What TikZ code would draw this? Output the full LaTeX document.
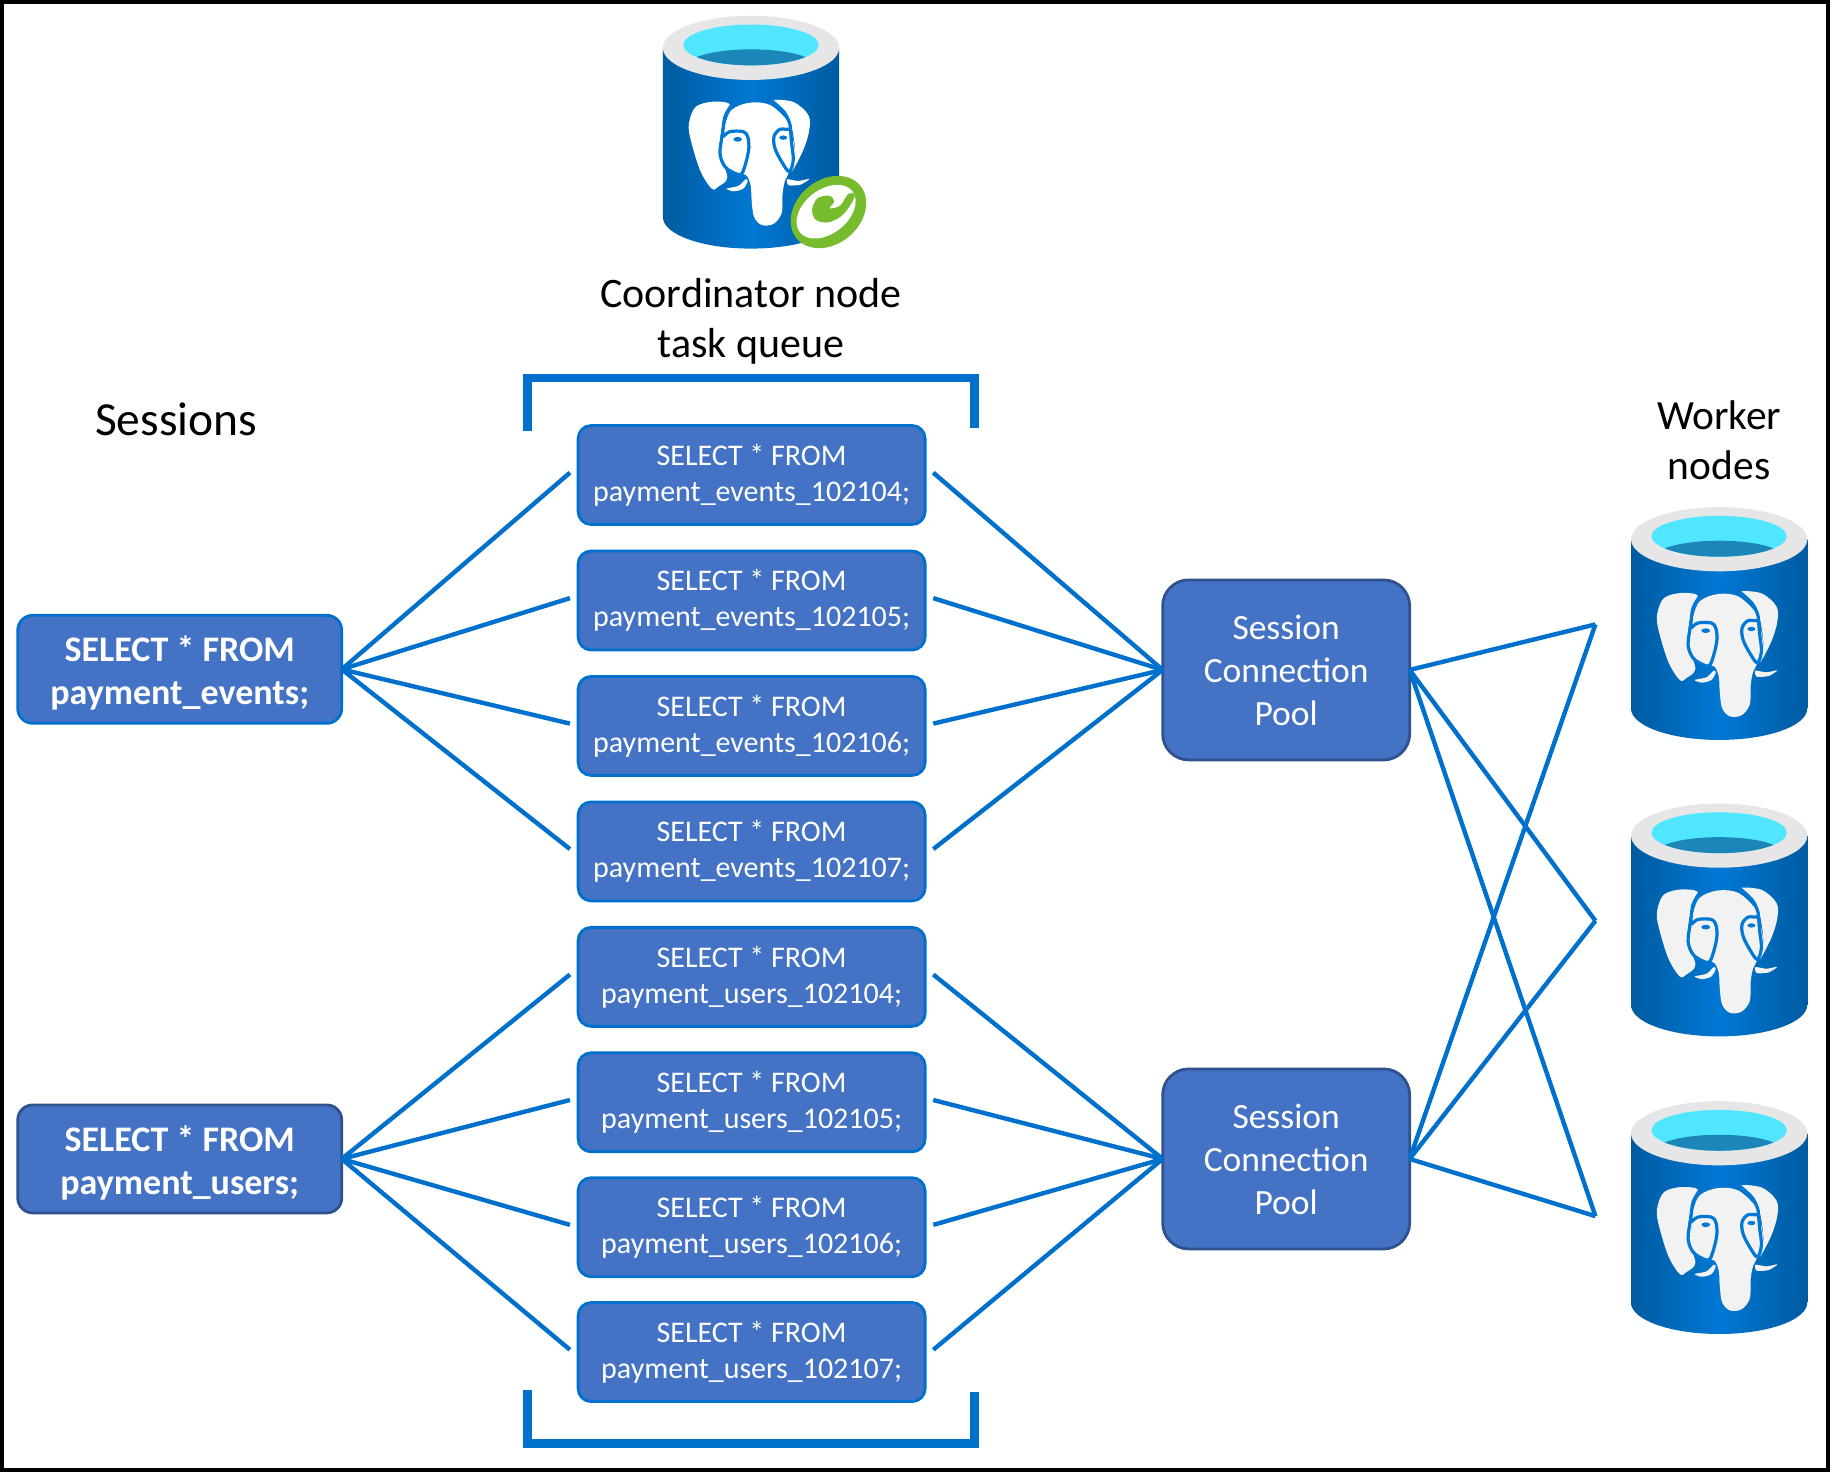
\documentclass[tikz,border=0pt]{standalone}
\usepackage{fontspec}
\setmainfont{Carlito}
\definecolor{boxfill}{HTML}{4472C4}
\definecolor{azure}{HTML}{0070CD}
\definecolor{darkedge}{HTML}{2F528F}
\definecolor{cylmid}{HTML}{0078D4}
\definecolor{cylside}{HTML}{005BA1}
\definecolor{rim}{HTML}{E6E6E6}
\definecolor{water}{HTML}{50E6FF}
\definecolor{deep}{HTML}{1D86B8}
\definecolor{badge}{HTML}{76BC2D}
\newcommand{\lowerline}{\rule{0pt}{33pt}}
\tikzset{
  anybox/.style={fill=boxfill,text=white,align=center,inner sep=0pt,outer sep=0pt,line width=2.8pt},
  querybox/.style={anybox,draw=azure,rounded corners=13pt,minimum width=347pt,minimum height=99pt,font=\fontsize{30}{36}\selectfont},
  sessionbox/.style={anybox,rounded corners=15pt,minimum width=324pt,minimum height=108pt,font=\fontsize{36}{43}\selectfont\bfseries},
  poolbox/.style={anybox,draw=darkedge,rounded corners=26pt,minimum width=247pt,minimum height=180pt,font=\fontsize{35.5}{43}\selectfont},
  caption/.style={align=center,text=black,inner sep=0pt,font=\fontsize{42}{50}\selectfont},
  link/.style={draw=azure,line width=4.4pt},
  bracket/.style={draw=azure,line width=8.5pt,miter limit=10}
}
\newcommand{\dbcyl}[4]{%
\begin{scope}[shift={(#1,#2)}]
  \shade[left color=cylside,right color=cylside,middle color=cylmid]
    (568,41) -- (568,186) .. controls (568,201) and (601.8,213) .. (643.5,213)
    .. controls (685.2,213) and (719,201) .. (719,186) -- (719,41) -- cycle;
  \fill[rim] (643.5,41) ellipse [x radius=75.5,y radius=27.5];
  \fill[water] (643.5,38.5) ellipse [x radius=58,y radius=17.5];
  \begin{scope}
    \clip (643.5,38.5) ellipse [x radius=58,y radius=17.5];
    \fill[deep] (643.5,55.7) ellipse [x radius=54,y radius=13.4];
  \end{scope}
  \begin{scope}[shift={(582.6,77.1)},x=.3333pt,y=-.3333pt]
    \fill[#3] plot[smooth cycle,tension=.55] coordinates {(152,46) (100,35) (48,50) (28,95) (30,140) (60,240) (95,296) (115,290) (142,262) (120,190) (126,110)};
    \fill[#3] plot[smooth cycle,tension=.55] coordinates {(275,32) (340,36) (385,75) (388,120) (370,180) (335,245) (346,190) (335,110) (315,70)};
    \fill[#3] plot[smooth cycle,tension=.55] coordinates {(132,115) (155,60) (210,38) (270,45) (320,90) (335,130) (345,195) (325,252) (315,272) (308,310) (305,370) (280,402) (245,405) (222,380) (215,330) (212,285) (198,255) (165,250) (135,230) (120,190) (128,140)};
    \fill[#3] plot[smooth cycle,tension=.5] coordinates {(140,296) (175,288) (197,268) (203,274) (190,296) (162,304)};
    \fill[#3] plot[smooth cycle,tension=.4] coordinates {(322,268) (355,273) (388,267) (362,284) (326,286)};
    \draw[cylmid,line width=3.2pt,line join=round]
      plot[smooth,tension=.55] coordinates {(155,45) (135,80) (128,130) (120,190) (135,230) (165,250) (185,252) (200,210) (207,170) (203,140) (190,125) (150,125) (130,140)};
    \draw[cylmid,line width=3.2pt,line join=round]
      plot[smooth,tension=.55] coordinates {(275,32) (315,70) (331,115) (300,118) (282,140) (285,175) (305,215) (328,245) (340,210) (335,160) (331,115)};
    \fill[cylmid] (173,148) ellipse [x radius=13,y radius=7];
    \fill[cylmid] (310,143) ellipse [x radius=12,y radius=6.5];
  \end{scope}
  #4
\end{scope}}
\begin{document}
\begin{tikzpicture}[x=1.1671pt,y=-1.1671pt]
\useasboundingbox (0,0) rectangle (1568,1261.25);
\draw[black,line width=4pt] (1.71,1.71) rectangle (1566.29,1259.54);

% cylinders
\dbcyl{0}{0}{white}{%
  \begin{scope}[shift={(668.4,141.4)},x=.3333pt,y=-.3333pt]
    \fill[badge,shift={(145,141)},rotate=40] (0,0) ellipse [x radius=124,y radius=96];
    \fill[white,shift={(138,140)},rotate=38] (0,0) ellipse [x radius=100,y radius=66];
    \fill[badge] plot[smooth cycle,tension=.55] coordinates {(96,135) (112,100) (148,92) (162,110) (148,130) (180,122) (205,86) (224,90) (212,118) (185,152) (145,172) (108,165)};
  \end{scope}}
\dbcyl{829.5}{421}{black!5}{}
\dbcyl{829.5}{675}{black!5}{}
\dbcyl{829.5}{930}{black!5}{}

% captions
\node[caption] (coord) at (643.5,275) {Coordinator node\\task queue};
\node[caption,font=\fontsize{47.5}{50}\selectfont] (sess) at (151,359.5) {Sessions};
\node[caption,font=\fontsize{41.5}{50}\selectfont] (work) at (1473,377) {Worker\\nodes};

% brackets
\draw[bracket] (452,369) -- (452,324) -- (835,324) -- (835,367);
\draw[bracket] (452,1191) -- (452,1237) -- (835,1237) -- (835,1193);

% boxes
\foreach \n/\y/\t in {1/407/events\_102104,2/514.5/events\_102105,3/622/events\_102106,4/729.5/events\_102107,5/837/users\_102104,6/944.5/users\_102105,7/1051.5/users\_102106,8/1158.5/users\_102107}{
  \node[querybox] (q\n) at (644,\y) {SELECT * FROM\\payment\_\t;};
  \coordinate (qin\n) at ([shift={(-7,-2)}]q\n.west);
  \coordinate (qout\n) at ([shift={(7,-2)}]q\n.east);
}
\node[sessionbox,draw=azure] (s1) at (154,573.5) {\lowerline SELECT * FROM\\payment\_events;};
\node[sessionbox,draw=darkedge] (s2) at (154,993) {\lowerline SELECT * FROM\\payment\_users;};
\node[poolbox] (p1) at (1102,574) {Session\\Connection\\Pool};
\node[poolbox] (p2) at (1102,993) {Session\\Connection\\Pool};

% free ends
\coordinate (w1) at (1367,535);
\coordinate (w2) at (1367,789);
\coordinate (w3) at (1367,1042);

% connectors
\foreach \n in {1,2,3,4}{
  \draw[link] (s1.east) -- (qin\n);
  \draw[link] (qout\n) -- (p1.west);
}
\foreach \n in {5,6,7,8}{
  \draw[link] (s2.east) -- (qin\n);
  \draw[link] (qout\n) -- (p2.west);
}
\foreach \w in {w1,w2,w3}{
  \draw[link] (p1.east) -- (\w);
  \draw[link] (p2.east) -- (\w);
}
\end{tikzpicture}
\end{document}
